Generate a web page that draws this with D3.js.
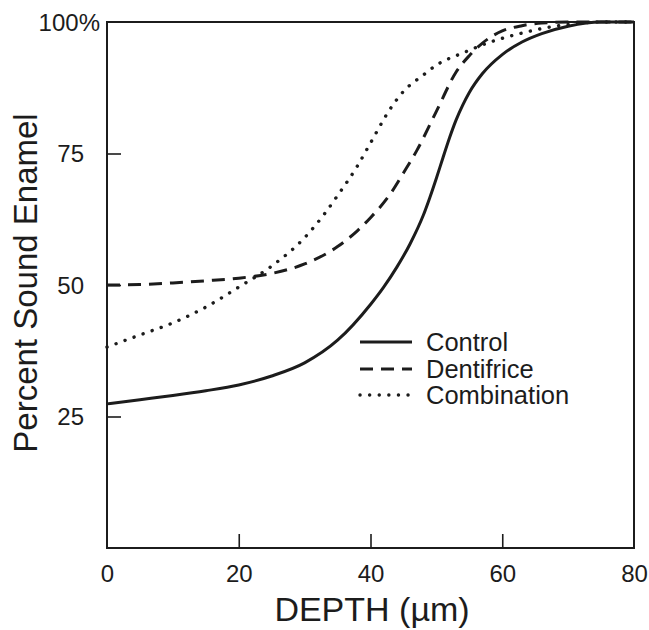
<!DOCTYPE html>
<html>
<head>
<meta charset="utf-8">
<script src="https://cdn.jsdelivr.net/npm/d3@7"></script>
<style>
  html, body { margin: 0; padding: 0; background: #fff; }
  svg { display: block; font-family: "Liberation Sans", Arial, Helvetica, sans-serif; }
</style>
</head>
<body>
<svg id="chart" width="649" height="630"></svg>
<script>
// ---- Data ----
const depthControl = [0, 5, 10, 15, 20, 25, 30, 35, 40, 42, 44, 46, 48, 49, 50, 51, 52, 53, 54, 55, 57, 60, 63, 66, 70, 75, 80];
const valControl   = [27.4, 28.2, 29.0, 29.9, 31.0, 32.7, 35.2, 39.5, 46.3, 49.6, 53.4, 57.8, 63.2, 66.6, 70.3, 74.2, 78.0, 81.4, 84.2, 86.6, 90.2, 93.8, 96.2, 97.8, 99.2, 100, 100];

const depthDentifrice = [0, 5, 10, 15, 20, 25, 30, 35, 38, 40, 43, 45, 47, 50, 53, 55, 57, 60, 63, 66, 70, 80];
const valDentifrice   = [50, 50.1, 50.4, 50.8, 51.3, 52.2, 54, 57.3, 60.3, 62.8, 67.3, 71.3, 75.5, 83, 90.5, 93.6, 96, 98.3, 99.3, 99.8, 100, 100];

const depthCombination = [0, 5, 10, 15, 20, 25, 30, 33, 35, 38, 40, 43, 45, 48, 50, 54, 58, 63, 68, 72, 75, 80];
const valCombination   = [38.2, 40.5, 42.8, 45.8, 49.6, 53.6, 59, 63.5, 67, 72.6, 77, 83.5, 86.8, 89.9, 91.8, 94.1, 96.1, 97.9, 99.2, 99.8, 100, 100];

const xTicks = [0, 20, 40, 60, 80];
const yTicks = [25, 50, 75, 100];
const yTickLabels = ["25", "50", "75", "100%"];
const seriesNames = ["Control", "Dentifrice", "Combination"];

// ---- Layout ----
const svg = d3.select("#chart");
const L = 107, R = 634, T = 22, B = 548;
const x = d3.scaleLinear().domain([0, 80]).range([L, R]);
const y = d3.scaleLinear().domain([0, 100]).range([B, T]);
const ink = "#1c1c1c";

// frame
svg.append("rect").attr("x", L).attr("y", T).attr("width", R - L).attr("height", B - T)
  .attr("fill", "none").attr("stroke", ink).attr("stroke-width", 2);

// y axis (inward ticks)
const yAxis = d3.axisLeft(y).tickValues(yTicks).tickSizeInner(-14).tickSizeOuter(0).tickPadding(23)
  .tickFormat((d, i) => yTickLabels[i]);
const gy = svg.append("g").attr("transform", `translate(${L},0)`).call(yAxis);
gy.select(".domain").remove();
gy.selectAll(".tick line").attr("stroke", ink).attr("stroke-width", 1.6);
gy.selectAll(".tick text").attr("font-size", 24).attr("fill", ink).attr("dy", "0.34em")
  .attr("font-family", "Liberation Sans, Arial, sans-serif");
gy.selectAll(".tick").filter(d => d === 100).select("line").remove();
gy.selectAll(".tick").filter(d => d === 100).select("text").attr("x", -7);

// x axis (inward ticks)
const xAxis = d3.axisBottom(x).tickValues(xTicks).tickSizeInner(-14).tickSizeOuter(0).tickPadding(34)
  .tickFormat(d3.format("d"));
const gx = svg.append("g").attr("transform", `translate(0,${B})`).call(xAxis);
gx.select(".domain").remove();
gx.selectAll(".tick line").attr("stroke", ink).attr("stroke-width", 1.6);
gx.selectAll(".tick").filter(d => d === 0 || d === 80).select("line").remove();
gx.selectAll(".tick text").attr("font-size", 24).attr("fill", ink).attr("dy", 0)
  .attr("font-family", "Liberation Sans, Arial, sans-serif");

// axis titles
svg.append("text").attr("x", 372).attr("y", 621).attr("text-anchor", "middle")
  .attr("font-size", 34).attr("fill", ink).text("DEPTH (\u00B5m)");
svg.append("text").attr("transform", `translate(37,283) rotate(-90)`).attr("text-anchor", "middle")
  .attr("font-size", 33).attr("fill", ink).text("Percent Sound Enamel");

// lines
const line = d3.line().x(d => x(d[0])).y(d => y(d[1])).curve(d3.curveMonotoneX);
const styles = [
  { dash: null, width: 3, cap: "butt" },
  { dash: "13,8", width: 3, cap: "butt" },
  { dash: "0.1,9.5", width: 3.4, cap: "round" }
];
const series = [
  d3.zip(depthControl, valControl),
  d3.zip(depthDentifrice, valDentifrice),
  d3.zip(depthCombination, valCombination)
];
series.forEach((s, i) => {
  svg.append("path").datum(s).attr("d", line).attr("fill", "none")
    .attr("stroke", ink).attr("stroke-width", styles[i].width)
    .attr("stroke-linecap", styles[i].cap)
    .attr("stroke-dasharray", styles[i].dash);
});

// legend
const legY = [342, 369, 395];
seriesNames.forEach((name, i) => {
  svg.append("line").attr("x1", 360).attr("x2", 412).attr("y1", legY[i]).attr("y2", legY[i])
    .attr("stroke", ink).attr("stroke-width", styles[i].width)
    .attr("stroke-linecap", styles[i].cap)
    .attr("stroke-dasharray", styles[i].dash);
  svg.append("text").attr("x", 426).attr("y", legY[i] + 9).attr("font-size", 25.5)
    .attr("fill", ink).text(name);
});
</script>
</body>
</html>
